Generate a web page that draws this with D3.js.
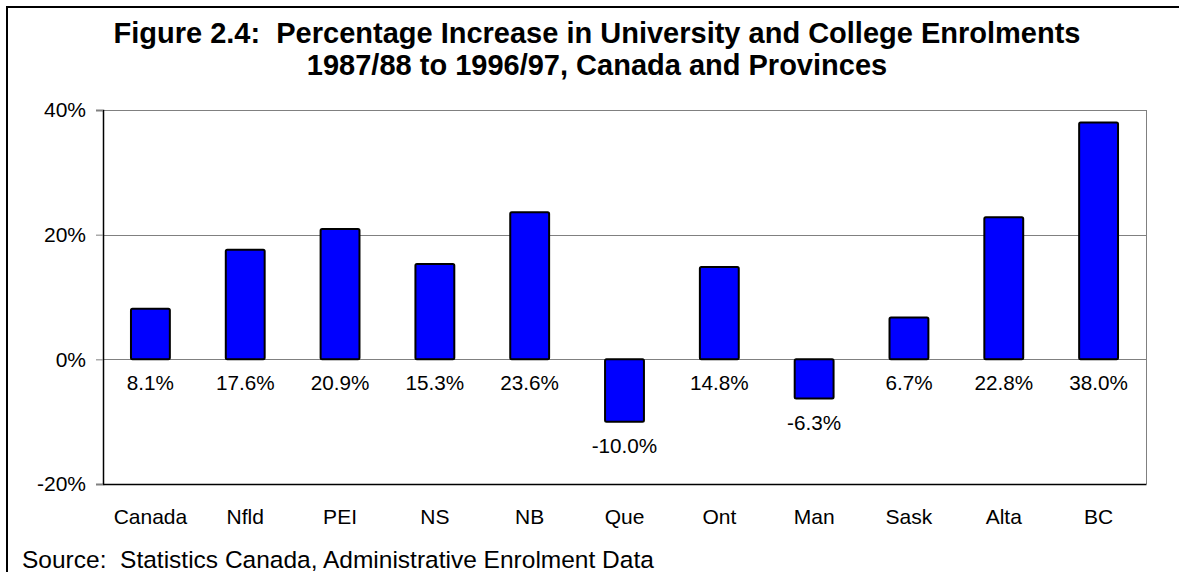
<!DOCTYPE html>
<html>
<head>
<meta charset="utf-8">
<script src="https://cdn.jsdelivr.net/npm/d3@7"></script>
<style>
  html, body { margin: 0; padding: 0; background: #fff; }
  svg { display: block; }
  text { font-family: Arial, "Liberation Sans", sans-serif; fill: #000; white-space: pre; }
</style>
</head>
<body>
<script>
// Enrolment growth by region, 1987/88 to 1996/97
const categories = ["Canada", "Nfld", "PEI", "NS", "NB", "Que", "Ont", "Man", "Sask", "Alta", "BC"];
const increases = [8.1, 17.6, 20.9, 15.3, 23.6, -10.0, 14.8, -6.3, 6.7, 22.8, 38.0];
const yTicks = [-20, 0, 20, 40];
const titleLines = [
  "Figure 2.4:  Percentage Increase in University and College Enrolments",
  "1987/88 to 1996/97, Canada and Provinces"
];
const sourceNote = "Source:  Statistics Canada, Administrative Enrolment Data";

const W = 1179, H = 572;
const plot = { left: 103, right: 1146, top: 110, bottom: 484 };
const FONT = "Arial, 'Liberation Sans', sans-serif";

const svg = d3.select("body").append("svg")
  .attr("width", W).attr("height", H);

// outer frame (runs off the right and bottom edges)
svg.append("rect")
  .attr("x", 7).attr("y", 7)
  .attr("width", W + 20).attr("height", H + 20)
  .attr("fill", "none").attr("stroke", "#000").attr("stroke-width", 2);

const x = d3.scaleBand()
  .domain(categories)
  .range([plot.left, plot.right])
  .paddingInner(0.59)
  .paddingOuter(0.295);

const y = d3.scaleLinear()
  .domain([-20, 40])
  .range([plot.bottom, plot.top]);

// title
svg.append("g").selectAll("text")
  .data(titleLines)
  .join("text")
  .attr("x", 597)
  .attr("y", (d, i) => 43 + i * 32)
  .attr("text-anchor", "middle")
  .attr("font-size", 29)
  .attr("font-weight", "bold")
  .text(d => d);

// gridlines
svg.append("g").selectAll("line")
  .data(yTicks.filter(t => t !== -20))
  .join("line")
  .attr("x1", plot.left).attr("x2", plot.right)
  .attr("y1", d => Math.round(y(d)) + 0.5).attr("y2", d => Math.round(y(d)) + 0.5)
  .attr("stroke", "#808080").attr("stroke-width", 1);

// right border of the plot area
svg.append("line")
  .attr("x1", plot.right + 0.5).attr("x2", plot.right + 0.5)
  .attr("y1", plot.top).attr("y2", plot.bottom)
  .attr("stroke", "#808080");

// value axis
const yAxis = svg.append("g")
  .attr("transform", `translate(${plot.left},0)`)
  .call(d3.axisLeft(y).tickValues(yTicks).tickFormat(d => d + "%").tickSize(7).tickPadding(10));
yAxis.select(".domain").attr("stroke", "#000").attr("stroke-width", 1.5);
yAxis.selectAll(".tick line").attr("stroke", "#808080");
yAxis.selectAll(".tick text").attr("font-size", 21).attr("fill", "#000").attr("font-family", FONT);

// category axis along the bottom
const xAxis = svg.append("g")
  .attr("transform", `translate(0,${plot.bottom})`)
  .call(d3.axisBottom(x).tickSize(0).tickPadding(25));
xAxis.select(".domain").attr("stroke", "#000").attr("stroke-width", 1.5);
xAxis.selectAll(".tick text").attr("font-size", 21).attr("fill", "#000").attr("font-family", FONT);

const rows = increases.map((v, i) => ({ cat: categories[i], v }));

// bars
svg.append("g").selectAll("rect")
  .data(rows)
  .join("rect")
  .attr("x", d => x(d.cat))
  .attr("width", x.bandwidth())
  .attr("y", d => y(Math.max(0, d.v)))
  .attr("height", d => Math.abs(y(d.v) - y(0)))
  .attr("rx", 1.5)
  .attr("fill", "#0000ff")
  .attr("stroke", "#000")
  .attr("stroke-width", 2);

// value labels beneath each bar
svg.append("g").selectAll("text")
  .data(rows)
  .join("text")
  .attr("x", d => x(d.cat) + x.bandwidth() / 2)
  .attr("y", d => y(Math.min(0, d.v)) + 31)
  .attr("text-anchor", "middle")
  .attr("font-size", 20.7)
  .text(d => d.v.toFixed(1) + "%");

// source note
svg.append("text")
  .attr("x", 22).attr("y", 568)
  .attr("font-size", 24.5)
  .text(sourceNote);
</script>
</body>
</html>
